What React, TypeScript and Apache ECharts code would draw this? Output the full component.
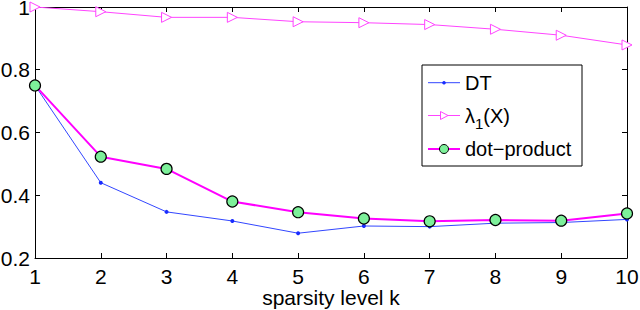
import React, { useEffect, useRef } from "react";
import * as echarts from "echarts";

const kValues = [1, 2, 3, 4, 5, 6, 7, 8, 9, 10];
const dtValues = [0.75, 0.44, 0.347, 0.318, 0.279, 0.302, 0.3, 0.311, 0.313, 0.323];
const lambdaValues = [1.0, 0.985, 0.967, 0.967, 0.953, 0.95, 0.944, 0.929, 0.91, 0.879];
const dotValues = [0.75, 0.523, 0.484, 0.38, 0.346, 0.326, 0.317, 0.321, 0.319, 0.342];
const yTicks = [0.2, 0.4, 0.6, 0.8, 1];
const seriesNames = ["DT", "λ1(X)", "dot\u2212product"];

const FONT = "Liberation Sans, Arial, Helvetica, sans-serif";
const DT_COLOR = "#3246ff";
const LAMBDA_COLOR = "#ff44ff";
const DOT_LINE = "#ff00ff";
const DOT_FILL = "#7df09a";

export default function App() {
  const ref = useRef<HTMLDivElement>(null);
  useEffect(() => {
    const chart = echarts.init(ref.current!, null, { renderer: "svg" });
    const axisLine = { show: true, lineStyle: { color: "#000", width: 1 } };
    const axisTick = { show: true, inside: true, length: 5, lineStyle: { color: "#000" } };

    // Legend drawn with graphic elements
    const lx = 422;
    const ly = 65;
    const lw = 160;
    const lh = 101;
    const rows = [82.7, 115.5, 149];
    const iconX0 = 428;
    const iconX1 = 460;
    const iconMid = (iconX0 + iconX1) / 2;
    const textX = 465;
    const legendElems: any[] = [
      {
        type: "rect",
        shape: { x: lx, y: ly, width: lw, height: lh },
        style: { fill: "#fff", stroke: "#000", lineWidth: 1 },
        z: 100,
      },
      // DT
      { type: "line", shape: { x1: iconX0, y1: rows[0], x2: iconX1, y2: rows[0] }, style: { stroke: DT_COLOR, lineWidth: 1 }, z: 101 },
      { type: "circle", shape: { cx: iconMid, cy: rows[0], r: 1.8 }, style: { fill: "#1a2cff" }, z: 102 },
      {
        type: "text",
        x: textX,
        y: rows[0],
        style: { text: seriesNames[0], font: `20px ${FONT}`, fill: "#000", verticalAlign: "middle" },
        z: 102,
      },
      // lambda
      { type: "line", shape: { x1: iconX0, y1: rows[1], x2: iconX1, y2: rows[1] }, style: { stroke: LAMBDA_COLOR, lineWidth: 1 }, z: 101 },
      {
        type: "polygon",
        shape: { points: [[iconMid - 3.5, rows[1] - 4], [iconMid + 4, rows[1]], [iconMid - 3.5, rows[1] + 4]] },
        style: { fill: "#fff", stroke: LAMBDA_COLOR, lineWidth: 1 },
        z: 102,
      },
      {
        type: "text",
        x: textX,
        y: rows[1],
        style: {
          text: "{a|λ}{s|1}{a|(X)}",
          font: `20px ${FONT}`,
          fill: "#000",
          verticalAlign: "middle",
          rich: {
            a: { font: `20px ${FONT}`, fill: "#000", verticalAlign: "middle" },
            s: { font: `15px ${FONT}`, fill: "#000", padding: [16, 0, 0, 0] },
          },
        },
        z: 102,
      },
      // dot-product
      { type: "line", shape: { x1: iconX0, y1: rows[2], x2: iconX1, y2: rows[2] }, style: { stroke: DOT_LINE, lineWidth: 2 }, z: 101 },
      { type: "circle", shape: { cx: iconMid, cy: rows[2], r: 4.5 }, style: { fill: DOT_FILL, stroke: "#000", lineWidth: 1 }, z: 102 },
      {
        type: "text",
        x: textX,
        y: rows[2],
        style: { text: seriesNames[2], font: `20px ${FONT}`, fill: "#000", verticalAlign: "middle" },
        z: 102,
      },
    ];

    chart.setOption({
      animation: false,
      backgroundColor: "#fff",
      grid: { left: 35, right: 13, top: 7, bottom: 52, containLabel: false, outerBoundsMode: "none" },
      graphic: legendElems,
      xAxis: [
        {
          type: "value",
          min: 1,
          max: 10,
          interval: 1,
          name: "sparsity level k",
          nameLocation: "middle",
          nameGap: 29,
          nameMoveOverlap: false,
          nameTextStyle: { fontFamily: FONT, fontSize: 21, color: "#000" },
          axisLine,
          axisTick,
          splitLine: { show: false },
          axisLabel: { fontFamily: FONT, fontSize: 21, color: "#000", margin: 8 },
        },
        {
          type: "value",
          position: "top",
          min: 1,
          max: 10,
          interval: 1,
          axisLine,
          axisTick,
          splitLine: { show: false },
          axisLabel: { show: false },
        },
      ],
      yAxis: [
        {
          type: "value",
          min: 0.2,
          max: 1,
          interval: 0.2,
          axisLine,
          axisTick,
          splitLine: { show: false },
          axisLabel: {
            fontFamily: FONT,
            fontSize: 21,
            color: "#000",
            margin: 5,
            formatter: (v: number) => {
              const t = yTicks.find((x) => Math.abs(x - v) < 1e-6);
              return t === undefined ? "" : String(t);
            },
          },
        },
        {
          type: "value",
          position: "right",
          min: 0.2,
          max: 1,
          interval: 0.2,
          axisLine,
          axisTick,
          splitLine: { show: false },
          axisLabel: { show: false },
        },
      ],
      series: [
        {
          name: seriesNames[0],
          type: "line",
          data: kValues.map((k, i) => [k, dtValues[i]]),
          lineStyle: { color: DT_COLOR, width: 1 },
          itemStyle: { color: "#1a2cff" },
          symbol: "circle",
          symbolSize: 4,
          z: 2,
        },
        {
          name: seriesNames[1],
          type: "line",
          data: kValues.map((k, i) => [k, lambdaValues[i]]),
          lineStyle: { color: LAMBDA_COLOR, width: 1 },
          itemStyle: { color: "#fff", borderColor: LAMBDA_COLOR, borderWidth: 1 },
          symbol: "triangle",
          symbolRotate: -90,
          symbolSize: 10,
          z: 3,
        },
        {
          name: seriesNames[2],
          type: "line",
          data: kValues.map((k, i) => [k, dotValues[i]]),
          lineStyle: { color: DOT_LINE, width: 2 },
          itemStyle: { color: DOT_FILL, borderColor: "#000", borderWidth: 1.2 },
          symbol: "circle",
          symbolSize: 11,
          z: 4,
        },
      ],
    });
    return () => chart.dispose();
  }, []);
  return <div ref={ref} style={{ width: 640, height: 310, position: "absolute", left: 0, top: 0 }} />;
}
